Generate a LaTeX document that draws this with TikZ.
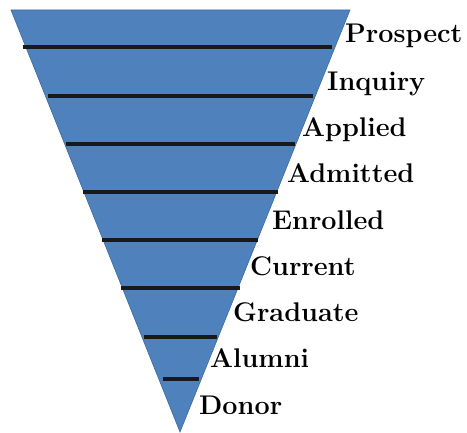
\documentclass[tikz,border=0pt]{standalone}
\usepackage{tikz}
\definecolor{funnel}{HTML}{4F81BD}
\definecolor{funneledge}{HTML}{3C6A9E}

\begin{document}
\begin{tikzpicture}[x=1pt,y=-1pt]
\useasboundingbox (0,0) rectangle (467,433);
% funnel body
\fill[funnel,draw=funneledge,line width=0.6pt] (11,10)--(350,10)--(180,432)--cycle;
% dividers between the stages
\foreach \y/\xl/\xr in {47/23/332,96/48/313,144/66/295,192/83/278,240/102/258,288/121/240,337/144/217,379/163/199}{
  \draw[line width=3.2pt,black!90] (\xl,\y)--(\xr,\y);}
% stage names
\foreach \n/\name/\x/\y in {1/Prospect/345/43,2/Inquiry/327/91,3/Applied/302/137,4/Admitted/287/183,5/Enrolled/272/230,6/Current/250/276,7/Graduate/233/322,8/Alumni/210/368,9/Donor/199/415}{
  \node[anchor=base west,inner sep=0pt,font=\fontsize{27}{31}\selectfont\bfseries] (stage\n) at (\x,\y) {\name};}
\end{tikzpicture}
\end{document}
